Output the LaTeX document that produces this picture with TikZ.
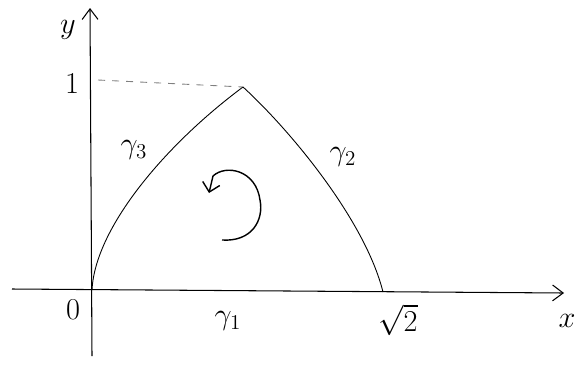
\documentclass[tikz,border=0pt]{standalone}
\usetikzlibrary{arrows.meta}
\begin{document}
\begin{tikzpicture}[x=0.02cm,y=-0.02cm,
  axis/.style={line width=0.6pt,-{Straight Barb[length=6pt,width=9pt]}},
  curve/.style={line width=0.5pt},
  lbl/.style={font=\LARGE},
  rot/.style={line width=0.8pt,-{Straight Barb[length=5pt,width=10pt]}}]
\useasboundingbox (0,0) rectangle (580,372);
% points
\coordinate (O) at (92,290);
\coordinate (xs) at (12,289);
\coordinate (xe) at (564,293);
\coordinate (ys) at (92,356);
\coordinate (ye) at (90,8);
\coordinate (P) at (243,87);
\coordinate (Q) at (383,292);
\coordinate (d1) at (98,80);
% axes
\draw[axis] (xs) -- (xe);
\draw[axis] (ys) -- (ye);
% dashed guide
\draw[line width=0.5pt,dash pattern=on 4pt off 4pt,gray] (d1) -- (P);
% curves
\draw[curve] (O) .. controls (95,228) and (165,145) .. (P);
\draw[curve] (P) .. controls (290,130) and (365,220) .. (Q);
% rotation arrow
\coordinate (r0) at (222,240);
\coordinate (r1) at (260,200);
\coordinate (r2) at (213,176);
\coordinate (r3) at (209,193);
\draw[rot] (r0) .. controls (252,242) and (264,220) .. (r1)
  .. controls (256,170) and (226,164) .. (r2) -- (r3);
% labels
\node[lbl] (ly) at (68,30) {$y$};
\node[lbl] (lx) at (567,321) {$x$};
\node[lbl] (l1) at (72,84) {$1$};
\node[lbl] (l0) at (73,310) {$0$};
\node[lbl] (g3) at (134,150) {$\gamma_3$};
\node[lbl] (g2) at (343,157) {$\gamma_2$};
\node[lbl] (g1) at (228,321) {$\gamma_1$};
\node[lbl] (s2) at (398,320) {$\sqrt{2}$};
\end{tikzpicture}
\end{document}
